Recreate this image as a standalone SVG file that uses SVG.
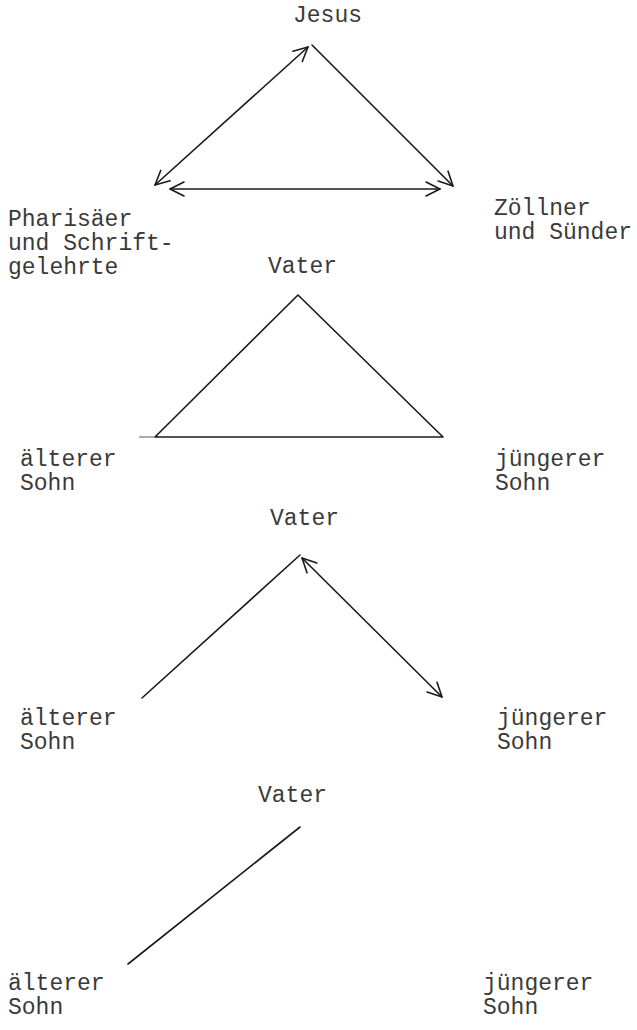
<svg xmlns="http://www.w3.org/2000/svg" width="637" height="1030" viewBox="0 0 637 1030">
<defs>
<style>
text{font-family:"Liberation Mono","DejaVu Sans Mono",monospace;font-size:23px;fill:#3a3a3a}
.ln{stroke:#1a1a1a;stroke-width:1.6;fill:none;stroke-linecap:round}
.thin{stroke:#777;stroke-width:1.2;fill:none}
</style>
<marker id="arrL" viewBox="0 0 16 16" refX="15" refY="8" markerWidth="16" markerHeight="16" markerUnits="userSpaceOnUse" orient="auto-start-reverse">
<path d="M1,1 L15,8 L1,15" fill="none" stroke="#1a1a1a" stroke-width="1.6" stroke-linecap="round" stroke-linejoin="round"/>
</marker>
</defs>
<rect width="637" height="1030" fill="#fff"/>

<g id="d1-jesus"><text x="293" y="22">Jesus</text></g>
<g id="d1-pharisaeer"><text x="8" y="226">Pharisäer</text><text x="8" y="250">und Schrift-</text><text x="8" y="274">gelehrte</text></g>
<g id="d1-zoellner"><text x="494" y="215">Zöllner</text><text x="494" y="239">und Sünder</text></g>

<g id="d2-vater"><text x="268" y="273">Vater</text></g>
<g id="d2-aelterer"><text x="20" y="466">älterer</text><text x="20" y="490">Sohn</text></g>
<g id="d2-juengerer"><text x="495" y="466">jüngerer</text><text x="495" y="490">Sohn</text></g>

<g id="d3-vater"><text x="270" y="525">Vater</text></g>
<g id="d3-aelterer"><text x="20" y="725">älterer</text><text x="20" y="749">Sohn</text></g>
<g id="d3-juengerer"><text x="497" y="725">jüngerer</text><text x="497" y="749">Sohn</text></g>

<g id="d4-vater"><text x="258" y="802">Vater</text></g>
<g id="d4-aelterer"><text x="8" y="990">älterer</text><text x="8" y="1014">Sohn</text></g>
<g id="d4-juengerer"><text x="483" y="990">jüngerer</text><text x="483" y="1014">Sohn</text></g>

<g id="connectors">
<line class="ln" x1="155" y1="185" x2="308" y2="47" marker-start="url(#arrL)" marker-end="url(#arrL)"/>
<line class="ln" x1="312" y1="45" x2="453" y2="186" marker-end="url(#arrL)"/>
<line class="ln" x1="170" y1="189" x2="440" y2="189" marker-start="url(#arrL)" marker-end="url(#arrL)"/>

<polyline class="ln" points="155,437 298,295 443,437 155,437" stroke-linejoin="round"/>
<line class="thin" x1="139" y1="437" x2="155" y2="437"/>

<line class="ln" x1="142" y1="698" x2="300" y2="555"/>
<line class="ln" x1="302" y1="558" x2="442" y2="697" marker-start="url(#arrL)" marker-end="url(#arrL)"/>

<line class="ln" x1="300" y1="827" x2="128" y2="964"/>
</g>
</svg>
